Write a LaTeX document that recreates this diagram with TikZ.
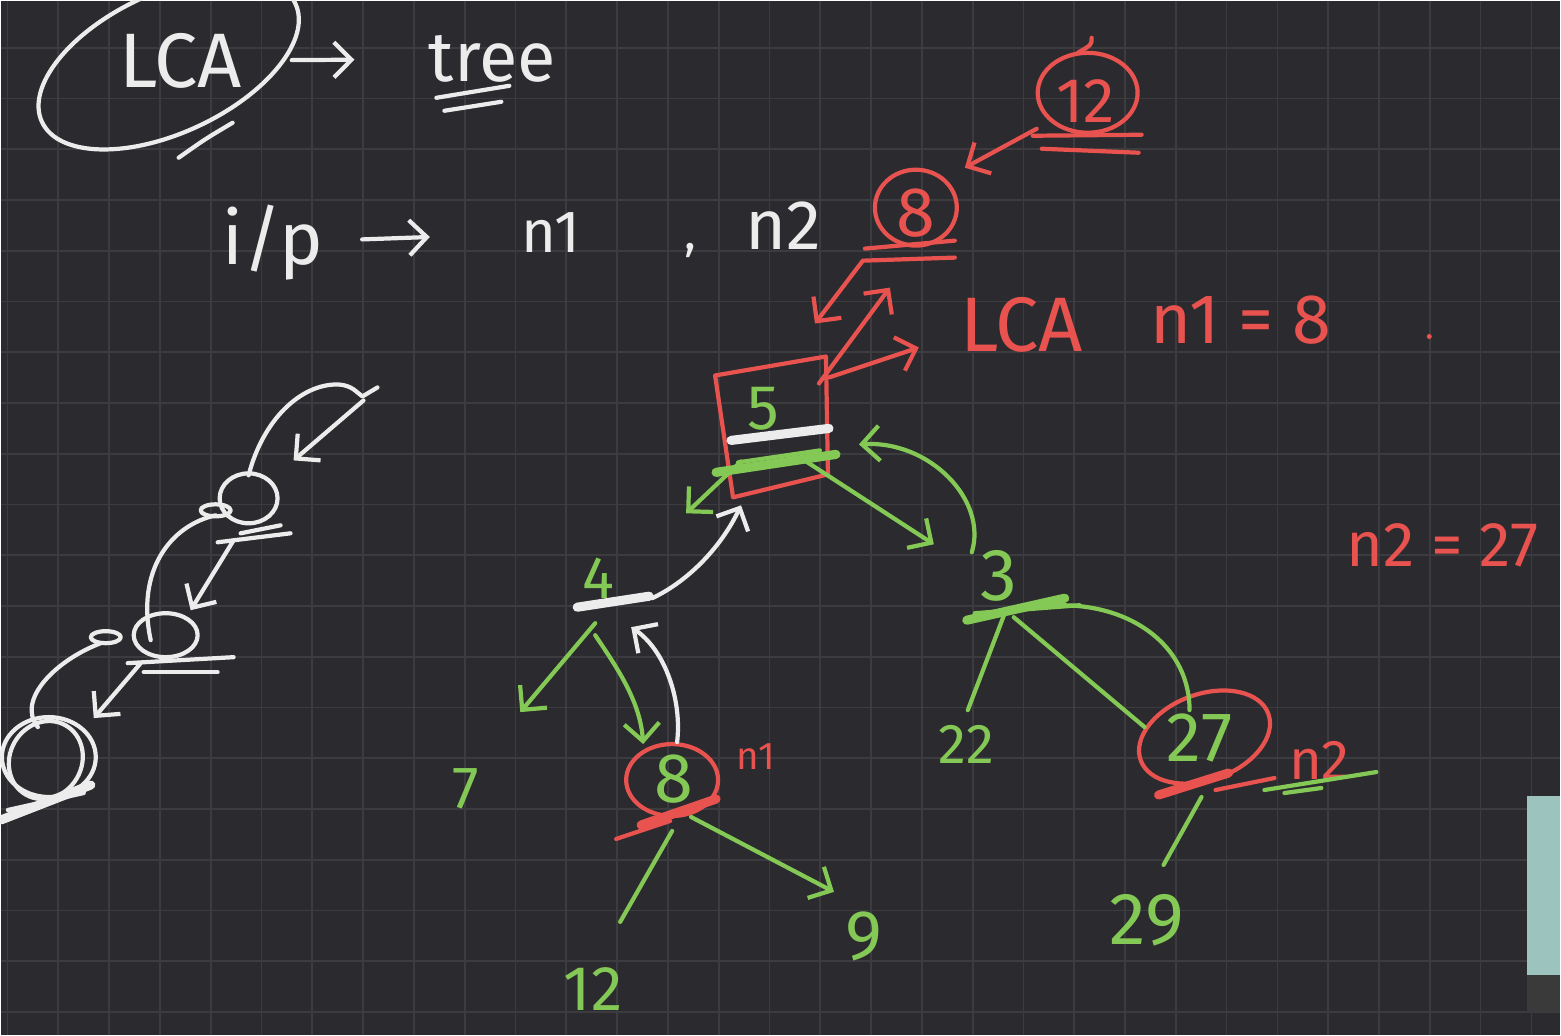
\documentclass[tikz,border=0pt]{standalone}
\usepackage{fontspec}
\setmainfont{Fira Sans}
\usetikzlibrary{arrows.meta}

\definecolor{board}{HTML}{2B2A2E}
\definecolor{gridink}{HTML}{3C3B40}
\definecolor{chalk}{HTML}{ECECEC}
\definecolor{greenink}{HTML}{84C955}
\definecolor{redink}{HTML}{E8524F}
\newcommand{\fsz}[1]{\fontsize{#1}{#1}\selectfont}

\begin{document}
\begin{tikzpicture}[
    x=0.1mm, y=-0.1mm,
    pen/.style={line width=1.2pt, line cap=round, line join=round},
    wline/.style={pen, draw=chalk},
    gline/.style={pen, draw=greenink},
    rline/.style={pen, draw=redink},
    wbar/.style={wline, line width=2.6pt},
    gbar/.style={gline, line width=2.6pt},
    rbar/.style={rline, line width=2.6pt},
    tip/.style={-{Straight Barb[length=5pt,width=10pt]}},
    wtxt/.style={inner sep=0pt, text=chalk},
    gtxt/.style={inner sep=0pt, text=greenink},
    rtxt/.style={inner sep=0pt, text=redink}
    ]

    % board
    \fill[board] (0,0) rectangle (1561,1035);
    \foreach \k in {0,...,30}
        \draw[gridink, line width=0.5pt] ({6.7+50.85*\k},0) -- ++(0,1035);
    \foreach \k in {0,...,19}
        \draw[gridink, line width=0.5pt] (0,{47+50.8*\k}) -- ++(1561,0);
    \useasboundingbox (0,0) rectangle (1561,1035);

    % heading
    \node[wtxt, font=\fsz{22}] (lca) at (180,60) {LCA};
    \node[wtxt, font=\fsz{20}] (tree) at (492,58) {tree};
    \draw[wline, rotate around={25:(168,62)}] (168,62) ellipse [x radius=140, y radius=70];
    \draw[wline] (232,122) .. controls (205,138) .. (178,157);
    \draw[wline, tip, shorten <=14pt, shorten >=21pt] (lca) -- (tree);
    \draw[wline] (436,97) -- (509,85);
    \draw[wline] (444,110) -- (501,101);

    \node[wtxt, font=\fsz{21}] (ip) at (272,242) {i/p};
    \node[wtxt, font=\fsz{17}] (nA) at (551,232) {n1};
    \node[wtxt, font=\fsz{14}] (comma) at (690,250) {,};
    \node[wtxt, font=\fsz{20}] (nB) at (783,225) {n2};
    \draw[wline, tip, shorten <=11pt, shorten >=26pt] (ip) -- (nA);

    % ancestors (red)
    \node[rtxt, font=\fsz{18}] (top12) at (1086,100) {12};
    \draw[rline] (1088,92) ellipse [x radius=50, y radius=40];
    \draw[rline] (1078,52) .. controls (1092,44) .. (1092,37);
    \draw[rline] (1033,135) -- (1142,134);
    \draw[rline] (1042,148) -- (1139,152);

    \node[rtxt, font=\fsz{20}] (top8) at (916,212) {8};
    \draw[rline] (916,207) ellipse [x radius=41, y radius=38];
    \draw[rline] (865,248) -- (955,240);
    \draw[rline] (865,260) -- (955,257);

    \coordinate (r12) at (1037,128);
    \coordinate (r8in) at (965,167);
    \coordinate (r8) at (863,260);
    \coordinate (r5in) at (815,323);
    \coordinate (r5) at (819,383);
    \coordinate (r8back) at (890,287);
    \coordinate (r5b) at (829,377);
    \coordinate (rlca) at (919,347);
    \draw[rline, tip] (r12) -- (r8in);
    \draw[rline, tip] (r8) -- (r5in);
    \draw[rline, tip] (r5) -- (r8back);
    \draw[rline, tip] (r5b) -- (rlca);

    \node[rtxt, font=\fsz{22}] (lcaR) at (1022,324) {LCA};
    \node[rtxt, font=\fsz{20}] (eqA) at (1241,320) {n1 = 8};
    \fill[redink] (1430,336) circle [radius=2.5];
    \node[rtxt, font=\fsz{18}] (eqB) at (1443,545) {n2 = 27};

    % tree
    \node[gtxt, font=\fsz{18}] (five) at (763,408) {5};
    \draw[rline] (715,375) -- (826,356) -- (828,474) -- (733,497) -- cycle;
    \draw[wbar] (731,440) -- (829,428);
    \draw[gbar] (716,472) -- (836,454);
    \draw[gline] (738,462) -- (820,450);

    \node[gtxt, font=\fsz{17}] (four) at (598,578) {4};
    \draw[wbar] (577,607) -- (649,596);
    \node[gtxt, font=\fsz{21}] (three) at (999,576) {3};
    \draw[gbar] (967,620) -- (1065,598);
    \draw[gline] (975,613) -- (1080,605);

    \node[gtxt, font=\fsz{17}] (seven) at (465,789) {7};
    \node[gtxt, font=\fsz{20}] (eight) at (674,779) {8};
    \draw[rline] (672,780) ellipse [x radius=46, y radius=36];
    \draw[rbar] (641,825) -- (716,799);
    \draw[rline] (616,839) -- (670,821);
    \node[rtxt, font=\fsz{11}] (nOne) at (756,757) {n1};

    \node[gtxt, font=\fsz{18}] (twelve) at (593,989) {12};
    \node[gtxt, font=\fsz{20}] (nine) at (864,937) {9};
    \node[gtxt, font=\fsz{16}] (tt) at (967,744) {22};
    \node[gtxt, font=\fsz{20}] (ts) at (1200,738) {27};
    \draw[rline, rotate around={20:(1205,737)}] (1205,737) ellipse [x radius=68, y radius=43];
    \draw[rbar] (1159,795) -- (1229,773);
    \draw[rline] (1216,790) -- (1275,778);
    \node[rtxt, font=\fsz{16}] (nTwo) at (1320,760) {n2};
    \draw[gline] (1265,790) -- (1377,772);
    \draw[gline] (1285,793) -- (1322,788);
    \node[gtxt, font=\fsz{21}] (tn) at (1147,920) {29};

    \coordinate (g5l) at (741,461);
    \coordinate (g4in) at (686,513);
    \coordinate (g5r) at (806,461);
    \coordinate (g3in) at (934,544);
    \coordinate (g3up) at (972,552);
    \coordinate (g5back) at (859,444);
    \coordinate (g4l) at (595,623);
    \coordinate (g7in) at (520,712);
    \coordinate (g4r) at (595,635);
    \coordinate (g8in) at (643,744);
    \coordinate (g8l) at (672,831);
    \coordinate (g12) at (620,922);
    \coordinate (g8r) at (691,817);
    \coordinate (g9in) at (834,892);
    \coordinate (g3l) at (1005,613);
    \coordinate (g22) at (968,710);
    \coordinate (g3r) at (1014,617);
    \coordinate (g27) at (1145,727);
    \coordinate (g3arc) at (1035,607);
    \coordinate (g27top) at (1190,710);
    \coordinate (g27b) at (1202,797);
    \coordinate (g29) at (1164,865);
    \coordinate (w4) at (652,598);
    \coordinate (w5in) at (741,505);
    \coordinate (w8) at (677,742);
    \coordinate (w4in) at (631,627);

    \draw[gline, tip] (g5l) -- (g4in);
    \draw[gline, tip] (g5r) -- (g3in);
    \draw[gline, tip] (g3up) .. controls (988,500) and (930,440) .. (g5back);
    \draw[gline, tip] (g4l) -- (g7in);
    \draw[gline, tip] (g4r) .. controls (615,665) and (640,700) .. (g8in);
    \draw[gline] (g8l) -- (g12);
    \draw[gline, tip] (g8r) -- (g9in);
    \draw[gline] (g3l) -- (g22);
    \draw[gline] (g3r) -- (g27);
    \draw[gline] (g3arc) .. controls (1120,595) and (1190,640) .. (g27top);
    \draw[gline] (g27b) -- (g29);
    \draw[wline, tip] (w4) .. controls (690,580) and (722,545) .. (w5in);
    \draw[wline, tip] (w8) .. controls (682,700) and (665,650) .. (w4in);

    % recursion scribble
    \draw[wline] (248,475) .. controls (262,420) and (300,383) .. (338,384)
        .. controls (352,385) and (356,392) .. (362,396) -- (377,387);
    \draw[wline, tip] (363,400) -- (293,460);
    \draw[wline] (248,498) ellipse [x radius=29, y radius=25];
    \draw[wline] (215,510) ellipse [x radius=15, y radius=6];
    \draw[wline] (217,542) -- (290,533);
    \draw[wline] (240,533) -- (280,525);
    \draw[wline, tip] (233,540) -- (190,610);
    \draw[wline] (215,515) .. controls (170,525) and (135,570) .. (150,640);
    \draw[wline] (165,635) ellipse [x radius=32, y radius=22];
    \draw[wline] (105,637) ellipse [x radius=15, y radius=6];
    \draw[wline] (127,663) -- (233,657);
    \draw[wline] (143,672) -- (217,672);
    \draw[wline, tip] (140,663) -- (93,718);
    \draw[wline] (100,643) .. controls (55,660) and (15,700) .. (37,727);
    \draw[wline] (48,757) ellipse [x radius=47, y radius=40];
    \draw[wline, rotate around={-30:(45,760)}] (45,760) ellipse [x radius=36, y radius=40];
    \draw[wbar] (0,820) -- (90,785);
    \draw[wline] (7,810) -- (83,793);

    % camera corner
    \fill[color={rgb,255:red,157;green,195;blue,191}] (1528,796) rectangle (1561,1012);
    \fill[color={rgb,255:red,58;green,58;blue,58}] (1528,975) rectangle (1561,1012);

\end{tikzpicture}
\end{document}
